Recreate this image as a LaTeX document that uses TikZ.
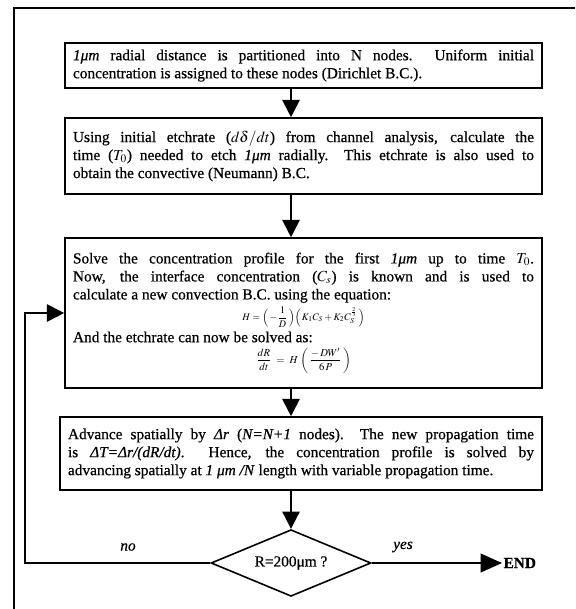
\documentclass[tikz,border=0pt]{standalone}
\usepackage{mathptmx}
\usepackage{fontspec}
\setmainfont[FakeBold=0.6]{Liberation Serif}
\usetikzlibrary{shapes.geometric,arrows.meta}

\begin{document}
\begin{tikzpicture}[x=0.75pt,y=-0.75pt,
  stepbox/.style={draw,line width=1.2pt,text width=#1,align=justify,
    inner xsep=6pt,inner ysep=3pt,font=\fontsize{11.5}{13.5}\selectfont},
  flow/.style={line width=1.4pt,-{Triangle[length=13pt,width=13pt]}}]
\clip (0,0) rectangle (575,609);
\draw[line width=1pt] (14,609) -- (14,8) -- (575,8);
\coordinate (col) at (291,0);

\node[stepbox=345.75pt,minimum height=33.75pt] (init) at (303.5,65.5)
  {\textit{1μm} radial distance is partitioned into N nodes.\ \ Uniform initial\linebreak
   concentration is assigned to these nodes (Dirichlet B.C.).};
\node[stepbox=345.75pt,minimum height=57pt] (rate) at (303.5,156)
  {Using initial etchrate ($d\delta/dt$) from channel analysis, calculate the\linebreak
   time ($T_0$) needed to etch \textit{1μm} radially.\ \ This etchrate is also used to\linebreak
   obtain the convective (Neumann) B.C.};
\node[stepbox=345.75pt,minimum height=112.5pt] (solve) at (303.5,313)
  {Solve the concentration profile for the first \textit{1μm} up to time $T_0$.\linebreak
   Now, the interface concentration ($C_s$) is known and is used to\linebreak
   calculate a new convection B.C. using the equation:\par\vspace{2pt}
   {\centering\fontsize{7.5}{9}\selectfont
    $\displaystyle H=\Bigl(\,-\frac{1}{D}\,\Bigr)\Bigl(\,K_1C_S+K_2C_S^{\frac{2}{3}}\,\Bigr)$\par}
   \vspace{3pt}
   And the etchrate can now be solved as:\par\vspace{3pt}
   {\centering\fontsize{8}{10}\selectfont
    $\displaystyle \frac{dR}{dt}\;=\;H\;\biggl(\,\frac{-\,DW'}{6\,P}\,\biggr)$\par}};
\node[stepbox=349.5pt,minimum height=54.75pt] (advance) at (301,453.5)
  {Advance spatially by \textit{Δr} (\textit{N=N+1} nodes).\ \ The new propagation time\linebreak
   is \textit{ΔT=Δr/(dR/dt)}.\ \ Hence, the concentration profile is solved by\linebreak
   advancing spatially at \textit{1 μm /N} length with variable propagation time.};

\node[diamond,draw,line width=1.2pt,aspect=2.4,minimum width=120pt,minimum height=50pt,
  inner sep=0pt,font=\fontsize{11.5}{13.5}\selectfont] (check) at (291,563) {R=200μm ?};
\node[anchor=west,inner sep=1pt,font=\fontsize{11.5}{13.5}\selectfont\bfseries] (fin) at (502,563) {END};
\node[font=\fontsize{11.5}{13.5}\selectfont] (nolbl) at (128,547) {\textit{no}};
\node[font=\fontsize{11.5}{13.5}\selectfont] (yeslbl) at (403,547) {\textit{yes}};
\coordinate (loopc) at (25,563);

\draw[flow] (init.south -| col) -- (rate.north -| col);
\draw[flow] (rate.south -| col) -- (solve.north -| col);
\draw[flow] (solve.south -| col) -- (advance.north -| col);
\draw[flow] (advance.south -| col) -- (check.north);
\draw[line width=1.4pt,-{Triangle[length=16pt,width=14pt]}] (check.east) -- (fin.west);
\draw[flow] (check.west) -- (loopc) |- (solve.west);
\end{tikzpicture}
\end{document}
